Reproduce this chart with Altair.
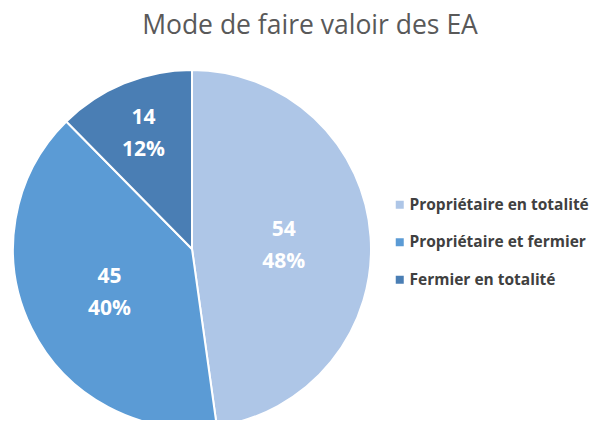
import altair as alt
import pandas as pd
import math

categories = ["Propriétaire en totalité", "Propriétaire et fermier", "Fermier en totalité"]
counts = [54, 45, 14]
colors = ["#AEC6E7", "#5B9BD5", "#4A7EB4"]

df = pd.DataFrame({"cat": categories, "value": counts, "order": [0, 1, 2]})

CX, CY, R = 184, 241, 179

pie = alt.Chart(df).mark_arc(outerRadius=R, stroke="white", strokeWidth=2).encode(
    theta=alt.Theta("value:Q", stack=True),
    order=alt.Order("order:Q"),
    x=alt.value(CX), y=alt.value(CY),
    color=alt.Color(
        "cat:N",
        scale=alt.Scale(domain=categories, range=colors),
        sort=categories,
        legend=alt.Legend(
            title=None, orient="none", legendX=384, legendY=189,
            symbolType="square", symbolSize=64, symbolStrokeWidth=0,
            labelFont="Open Sans", labelFontSize=15.5, labelFontWeight="bold",
            labelColor="#404040", rowPadding=20.5, labelOffset=2,
            labelLimit=300,
        ),
    ),
)

labels = alt.Chart(df).transform_joinaggregate(
    total="sum(value)"
).transform_window(
    cum="sum(value)", sort=[alt.SortField("order")]
).transform_calculate(
    label="datum.value + '\\n' + round(datum.value / datum.total * 100) + '%'",
    mid=f"(datum.cum - datum.value / 2) / datum.total * 2 * {math.pi}",
    lr="datum.value / datum.total < 0.2 ? 128 : 92",
).mark_text(
    font="Open Sans", fontSize=21, fontWeight="bold", color="white",
    lineBreak="\n", lineHeight=32, baseline="middle", align="center", dy=-13,
).encode(
    theta=alt.Theta("mid:Q", scale=None),
    x=alt.value(CX), y=alt.value(CY),
    radius=alt.Radius("lr:Q", scale=None),
    text="label:N",
)

title = alt.Chart(pd.DataFrame({"t": ["Mode de faire valoir des EA"]})).mark_text(
    font="Open Sans", fontSize=26.5, color="#595959", align="center", baseline="alphabetic"
).encode(x=alt.value(302), y=alt.value(26), text="t:N")

chart = alt.layer(pie, labels, title).properties(
    width=585, height=412, autosize=alt.AutoSizeParams(type="none"), padding=0
).configure_view(stroke=None)

chart.save("out.html", embed_options={"renderer": "svg", "actions": False})
